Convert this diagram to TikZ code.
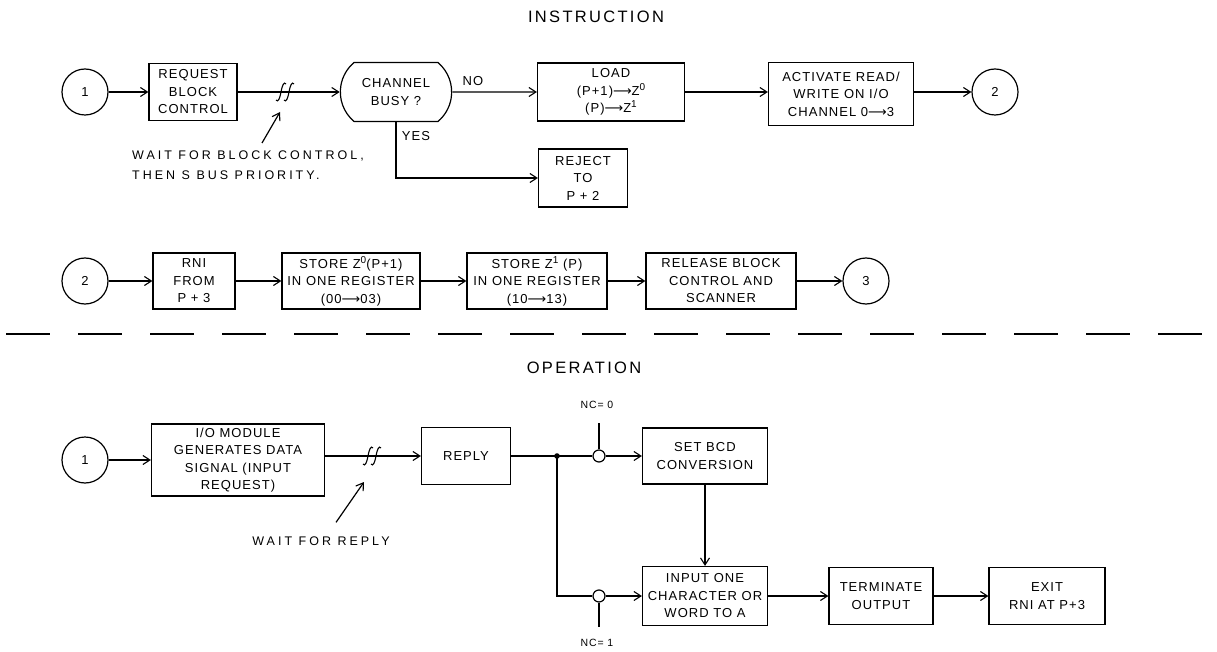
\documentclass[tikz,border=0pt]{standalone}
\usepackage{fontspec}
\setmainfont{Liberation Sans}[LetterSpace=8.0]
\newfontfamily\arrfont{DejaVu Sans}
\newcommand{\longarr}{{\arrfont\addfontfeature{LetterSpace=0.0}⟶}}
\newcommand{\supnum}[1]{\raisebox{0.75ex}{\fontsize{10}{10}\selectfont #1}}
\usetikzlibrary{arrows.meta,positioning,calc,shapes.misc}

\begin{document}
\begin{tikzpicture}[x=1pt, y=-1pt,
  procbox/.style 2 args={rectangle, draw, line width=1.2pt, minimum width=#1, minimum height=#2, inner sep=1pt, align=center, font=\fontsize{13}{17.5}\selectfont},
  conncirc/.style={circle, draw, line width=1.2pt, minimum size=46, inner sep=0pt, font=\fontsize{13}{15}\selectfont},
  nccirc/.style={circle, draw, line width=1.2pt, minimum size=12, inner sep=0pt},
  lbl/.style={inner sep=1pt, font=\fontsize{13}{17}\selectfont},
  notetext/.style={inner sep=1pt, align=left, font=\fontsize{12.5}{20}\selectfont\addfontfeature{LetterSpace=24.0}},
  titletext/.style={inner sep=1pt, font=\fontsize{16.5}{19}\selectfont\addfontfeature{LetterSpace=14.0}},
  line/.style={line width=1.2pt},
  arr/.style={line, -{Straight Barb[length=7pt, width=9pt, line width=1.1pt]}},
  brk/.pic={
    \foreach \dx in {-4,4}
      \draw[line width=1.1pt] (\dx-5,8) .. controls (\dx-3,11) and (\dx-1,6) .. (\dx,0)
        .. controls (\dx+1,-6) and (\dx+3,-11) .. (\dx+5,-8);
  }
]
\useasboundingbox (0,0) rectangle (1217,652);

% ---- instruction ----
\node[titletext] (insttitle) at (596,17) {INSTRUCTION};

\node[conncirc] (c1) at (85,92) {1};
\node[procbox={88}{57}] (req) at (193,92) {REQUEST\\BLOCK\\CONTROL};
\coordinate (brk1) at (285,92);
\node[rounded rectangle, rounded rectangle arc length=100, draw, line width=1.2pt, minimum width=118, minimum height=59, align=center, font=\fontsize{13}{17.5}\selectfont] (busy) at (396,92) {CHANNEL\\BUSY ?};
\node[procbox={147}{58}] (load) at (611,92) {LOAD\\(P+1)\longarr Z\supnum{0}\\(P)\longarr Z\supnum{1}};
\node[procbox={145}{63}] (act) at (841,94) {ACTIVATE READ/\\WRITE ON I/O\\CHANNEL 0\longarr 3};
\node[conncirc] (c2) at (995,92) {2};
\node[procbox={89}{58}] (rej) at (583,178) {REJECT\\TO\\P + 2};
\node[lbl] (nolbl) at (473,81) {NO};
\node[lbl] (yeslbl) at (416,136) {YES};
\node[notetext, anchor=north west] (waitnote) at (131,150) {WAIT FOR BLOCK CONTROL,\\THEN S BUS PRIORITY.};

\draw[arr] (c1) -- (req);
\draw[arr] (req) -- (busy);
\pic at (brk1) {brk};
\draw[arr] (busy) -- (load);
\draw[arr] (busy.south) |- (rej);
\draw[arr] (load) -- (act.west |- load);
\draw[arr] (act.east |- c2) -- (c2);
\draw[arr] ($(waitnote.north west)+(131,-7)$) -- ($(brk1)+(-5,20)$);

% ---- second row ----
\node[conncirc] (c2b) at (85,281) {2};
\node[procbox={82}{56}] (rni) at (194,281) {RNI\\FROM\\P + 3};
\node[procbox={138}{56}] (storea) at (351,281) {STORE Z\supnum{0}(P+1)\\IN ONE REGISTER\\(00\longarr 03)};
\node[procbox={140}{56}] (storeb) at (537,281) {STORE Z\supnum{1} (P)\\IN ONE REGISTER\\(10\longarr 13)};
\node[procbox={150}{56}] (rel) at (721,281) {RELEASE BLOCK\\CONTROL AND\\SCANNER};
\node[conncirc] (c3) at (866,281) {3};

\draw[arr] (c2b) -- (rni);
\draw[arr] (rni) -- (storea);
\draw[arr] (storea) -- (storeb);
\draw[arr] (storeb) -- (rel);
\draw[arr] (rel) -- (c3);

\draw[line, dash pattern=on 44pt off 28pt] (6,334) -- (1217,334);

% ---- operation ----
\node[titletext] (optitle) at (584,368) {OPERATION};

\node[conncirc] (oc1) at (85,460) {1};
\node[procbox={173}{72}] (iomod) at (238,460) {I/O MODULE\\GENERATES DATA\\SIGNAL (INPUT\\REQUEST)};
\coordinate (brk2) at (372,458);
\node[procbox={89}{57}] (reply) at (466,456) {REPLY};
\coordinate (jn) at (557,456);
\node[nccirc] (nca) at (599,456) {};
\coordinate (ncatop) at (599,423);
\node[procbox={125}{56}] (bcd) at (705,456) {SET BCD\\CONVERSION};
\node[lbl, font=\fontsize{10.5}{12}\selectfont] (ncalbl) at (597,405) {NC= 0};

\node[nccirc] (ncb) at (599,596) {};
\coordinate (ncbbot) at (599,627);
\node[procbox={125}{59}] (inp) at (705,596) {INPUT ONE\\CHARACTER OR\\WORD TO A};
\node[procbox={104}{57}] (term) at (881,596) {TERMINATE\\OUTPUT};
\node[procbox={116}{57}] (exit) at (1047,596) {EXIT\\RNI AT P+3};
\node[lbl, font=\fontsize{10.5}{12}\selectfont] (ncblbl) at (597,643) {NC= 1};
\node[notetext] (replynote) at (321,541) {WAIT FOR REPLY};

\draw[arr] (oc1) -- (iomod);
\draw[arr] (iomod.east |- reply) -- (reply);
\pic at (brk2 |- reply) {brk};
\draw[line] (reply) -- (jn) -- (nca);
\fill (jn) circle (2.8);
\draw[line] (nca) -- (ncatop);
\draw[arr] (nca) -- (bcd);
\draw[line] (jn) |- (ncb);
\draw[line] (ncb) -- (ncbbot);
\draw[arr] (ncb) -- (inp);
\draw[arr] (bcd) -- (inp);
\draw[arr] (inp) -- (term);
\draw[arr] (term) -- (exit);
\draw[arr] ($(replynote.north)+(15,-13)$) -- ($(brk2)+(-8,24)$);
\end{tikzpicture}
\end{document}
